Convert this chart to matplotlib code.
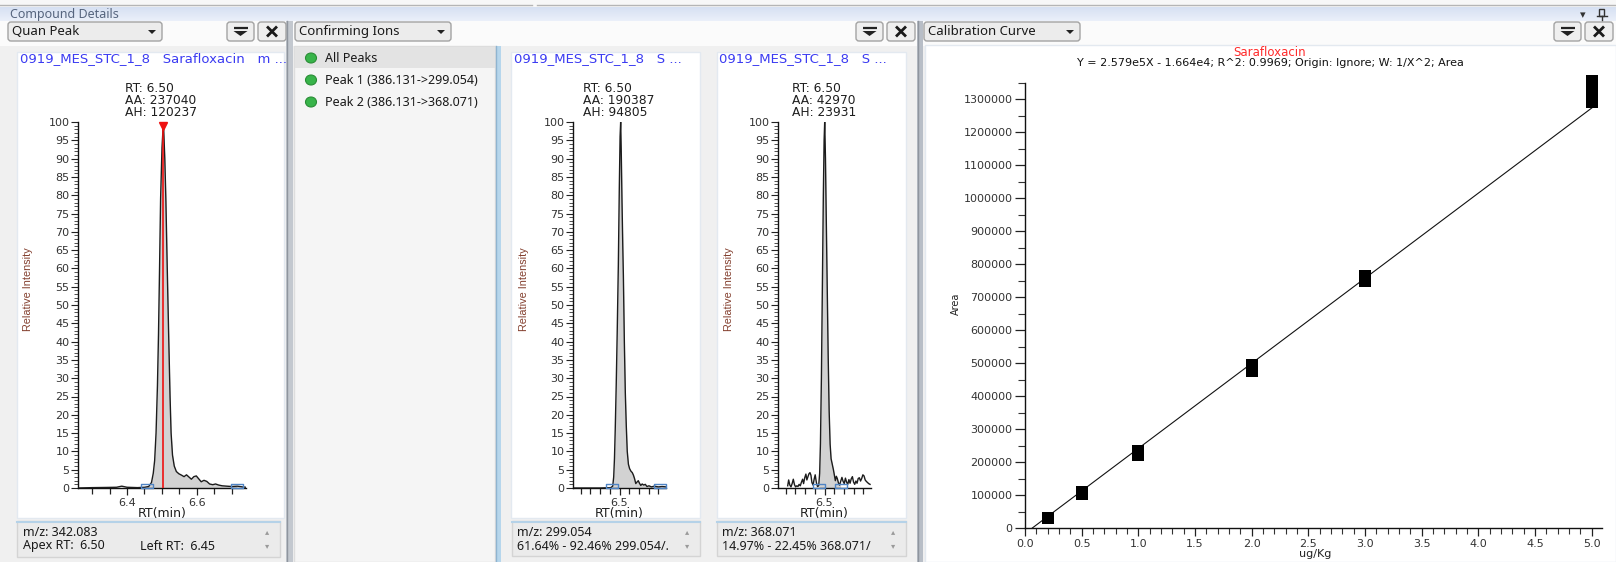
import matplotlib
matplotlib.use("Agg")
import matplotlib.pyplot as plt
import numpy as np
from matplotlib.patches import Rectangle, FancyBboxPatch, Polygon, Ellipse
from matplotlib.path import Path
from matplotlib.ticker import MultipleLocator, FixedLocator, FormatStrFormatter, FuncFormatter

# ---------------- data ----------------
quan_rt = [6.260, 6.300, 6.340, 6.370, 6.385, 6.400, 6.430, 6.450, 6.462, 6.470,
           6.475, 6.479, 6.483, 6.487, 6.490, 6.493, 6.496, 6.500, 6.504, 6.508,
           6.511, 6.515, 6.519, 6.523, 6.526, 6.530, 6.535, 6.541, 6.548, 6.556,
           6.563, 6.570, 6.577, 6.584, 6.591, 6.598, 6.605, 6.612, 6.620, 6.628,
           6.636, 6.645, 6.653, 6.662, 6.672, 6.685, 6.700, 6.715, 6.730, 6.740]
quan_int = [0.0, 0.1, 0.15, 0.2, 0.5, 0.2, 0.1, 0.2, 0.4, 1.5,
            4.0, 7.5, 15, 28, 42, 60, 79, 93, 100, 90,
            79, 60, 42, 25, 15, 9, 6, 4.5, 3.9, 3.5,
            3.1, 3.6, 3.0, 2.4, 3.1, 3.3, 2.5, 1.7, 2.1, 1.8,
            1.1, 0.9, 1.1, 0.8, 0.6, 0.5, 0.4, 0.5, 0.3, 0.2]

ion1_rt = [6.260, 6.400, 6.455, 6.465, 6.470, 6.474, 6.478, 6.483, 6.488, 6.494,
           6.499, 6.503, 6.506, 6.509, 6.513, 6.517, 6.520, 6.525, 6.530, 6.535,
           6.540, 6.546, 6.552, 6.559, 6.566, 6.572, 6.578, 6.584, 6.590, 6.597,
           6.603, 6.610, 6.617, 6.625, 6.633, 6.642, 6.652, 6.665, 6.680, 6.700,
           6.720, 6.740]
ion1_int = [0.0, 0.0, 0.1, 0.5, 3, 8, 16, 28, 42, 61,
            82, 96, 100, 92, 78, 66, 58, 40, 26, 17,
            10, 6.5, 5.3, 4.6, 4.2, 3.5, 2.5, 1.2, 1.6, 2.0,
            1.3, 0.7, 1.1, 0.8, 1.0, 0.4, 0.6, 0.3, 0.5, 0.3,
            0.4, 0.3]

ion2_rt = [6.310, 6.315, 6.321, 6.327, 6.333, 6.339, 6.345, 6.351, 6.357, 6.363,
           6.369, 6.375, 6.381, 6.387, 6.392, 6.398, 6.404, 6.409, 6.414, 6.420,
           6.425, 6.430, 6.435, 6.441, 6.447, 6.452, 6.458, 6.464, 6.470, 6.475,
           6.479, 6.484, 6.489, 6.494, 6.498, 6.501, 6.505, 6.509, 6.514, 6.519,
           6.524, 6.529, 6.534, 6.540, 6.546, 6.551, 6.556, 6.561, 6.566, 6.572,
           6.578, 6.584, 6.590, 6.596, 6.602, 6.608, 6.614, 6.620, 6.626, 6.632,
           6.638, 6.644, 6.650, 6.656, 6.662, 6.668, 6.674, 6.680, 6.686, 6.692,
           6.698, 6.704, 6.710, 6.716, 6.722, 6.728, 6.735]
ion2_int = [0.6, 2.2, 0.8, 0.3, 1.2, 2.4, 0.9, 0.3, 0.6, 0.4,
            1.0, 0.6, 1.6, 2.4, 1.2, 2.8, 3.8, 2.2, 3.0, 3.9,
            4.2, 3.5, 1.5, 0.8, 2.5, 3.6, 1.5, 0.4, 0.6, 4,
            12, 30, 55, 80, 95, 100, 90, 74, 55, 36,
            21, 12, 8, 6.5, 5, 3.5, 2.0, 3.2, 2.6, 1.4,
            0.8, 1.9, 2.9, 1.8, 1.2, 2.7, 1.6, 1.0, 2.3, 1.3,
            2.5, 3.1, 1.6, 1.0, 1.9, 1.3, 2.6, 2.8, 1.9, 2.6,
            3.6, 3.3, 2.2, 1.8, 1.5, 1.2, 1.0]

quan_bounds = [6.456, 6.714]
ion1_bounds = [6.461, 6.709]
ion2_bounds = [6.472, 6.583]
quan_apex = 6.503

peak_info = [["RT: 6.50", "AA: 237040", "AH: 120237"],
             ["RT: 6.50", "AA: 190387", "AH: 94805"],
             ["RT: 6.50", "AA: 42970", "AH: 23931"]]
chart_titles = ["0919_MES_STC_1_8   Sarafloxacin   m ...",
                "0919_MES_STC_1_8   S ...",
                "0919_MES_STC_1_8   S ..."]
status_lines = [["m/z: 342.083", "Apex RT:  6.50"],
                ["m/z: 299.054", "61.64% - 92.46% 299.054/."],
                ["m/z: 368.071", "14.97% - 22.45% 368.071/"]]
ion_list = ["All Peaks", "Peak 1 (386.131->299.054)", "Peak 2 (386.131->368.071)"]

conc_levels = [0.2, 0.5, 1.0, 2.0, 3.0, 5.0]
area_rep_a = [29500, 103000, 221000, 477000, 749000, 1291000]
area_rep_b = [30500, 106000, 227000, 485000, 757000, 1322000]
area_rep_c = [31500, 109000, 233000, 493000, 765000, 1354000]
fit_slope = 2.579e5
fit_intercept = -1.664e4
cal_title = "Sarafloxacin"
cal_equation = "Y = 2.579e5X - 1.664e4; R^2: 0.9969; Origin: Ignore; W: 1/X^2; Area"

# ---------------- figure ----------------
W, H = 1616, 562
plt.rcParams['font.family'] = ['DejaVu Sans']
fig = plt.figure(figsize=(W / 100, H / 100), dpi=100)
fig.patch.set_facecolor('#f0f0f0')

ui = fig.add_axes([0, 0, 1, 1], zorder=0)
ui.set_xlim(0, W)
ui.set_ylim(H, 0)
ui.axis('off')

UIF = ['Noto Sans', 'DejaVu Sans']


def rect(x0, y0, x1, y1, fc, ec='none', lw=1.0, z=1):
    ui.add_patch(Rectangle((x0, y0), x1 - x0, y1 - y0, fc=fc, ec=ec, lw=lw, zorder=z))


def rbox(x0, y0, x1, y1, fc, ec, z=2):
    ui.add_patch(FancyBboxPatch((x0, y0), x1 - x0, y1 - y0,
                                boxstyle='round,pad=0,rounding_size=3',
                                fc=fc, ec=ec, lw=1, zorder=z))


def dropdown(x0, x1, label):
    rbox(x0, 22, x1, 41, '#ececec', '#a3a3a3')
    ui.text(x0 + 4, 31.5, label, fontsize=9.5, family=UIF, va='center', ha='left',
            color='#1a1a1a', zorder=3)
    ax_ = x1 - 10
    ui.add_patch(Polygon([[ax_ - 4, 30], [ax_ + 4, 30], [ax_, 34]], closed=True,
                         fc='#222222', ec='none', zorder=3))


def buttons(x0):
    rbox(x0, 22, x0 + 27, 41, '#efefef', '#a3a3a3')
    cx = x0 + 13.5
    ui.plot([cx - 7, cx + 7], [28, 28], color='#222222', lw=1.6, zorder=3,
            solid_capstyle='butt')
    ui.add_patch(Polygon([[cx - 7, 31], [cx + 7, 31], [cx, 36]], closed=True,
                         fc='#222222', ec='none', zorder=3))
    x1 = x0 + 31
    rbox(x1, 22, x1 + 28, 41, '#efefef', '#a3a3a3')
    cx = x1 + 14
    for sgn in (1, -1):
        ui.plot([cx - 5, cx + 5], [31.5 - 5 * sgn, 31.5 + 5 * sgn], color='#1a1a1a',
                lw=2.0, zorder=3, solid_capstyle='butt')


# top strip and header band
rect(0, 0, W, 7, '#f7f7f7')
ui.plot([0, 532], [4.5, 4.5], color='#b5b5b5', lw=1, zorder=2)
ui.plot([537, W], [4.5, 4.5], color='#b5b5b5', lw=1, zorder=2)
grad = np.linspace(0, 1, 20).reshape(-1, 1)
c_top = np.array([0.84, 0.88, 0.95])
c_bot = np.array([0.92, 0.94, 0.98])
img = c_top[None, None, :] * (1 - grad[:, :, None]) + c_bot[None, None, :] * grad[:, :, None]
ui.imshow(img, extent=[0, W, 21, 7], aspect='auto', zorder=1, interpolation='bilinear')
ui.text(10, 14.5, "Compound Details", fontsize=9, family=UIF, color='#56657e',
        va='center', ha='left', zorder=3)
ui.text(1583, 15, "\u25BE", fontsize=8, color='#333333', va='center', ha='center', zorder=3)
ui.add_patch(Rectangle((1599, 9), 5, 7, fc='none', ec='#333333', lw=1, zorder=3))
ui.plot([1596.5, 1606.5], [16, 16], color='#333333', lw=1, zorder=3)
ui.plot([1601.5, 1601.5], [16, 20], color='#333333', lw=1, zorder=3)

# toolbar row
rect(0, 21, W, 46, '#fbfbfb')

# --- panel 1 ---
dropdown(8, 162, "Quan Peak")
buttons(227)
rect(17, 52, 284, 518, 'white', ec='#e3e9f0')
rect(17, 521, 280, 557, '#ebebeb', ec='#d4d4d4')
ui.plot([17, 280], [521.5, 521.5], color='#b5d2e8', lw=1.5, zorder=2)
rect(286, 21, 293, H, '#c3c8cf')
ui.plot([287, 287], [21, H], color='#8f959e', lw=1, zorder=2)

# --- panel 2 ---
dropdown(295, 451, "Confirming Ions")
buttons(856)
rect(294, 46, 495, H, '#f5f5f5', ec='#dddddd')
rect(295, 47, 495, 68, '#e3e3e3')
for i, lab in enumerate(ion_list):
    yy = 58 + i * 22
    ui.add_patch(Ellipse((311, yy), 11, 10, fc='#38b44a', ec='#2a8d36', lw=0.8, zorder=3))
    ui.text(325, yy, lab, fontsize=9, family=UIF, color='#1a1a1a', va='center',
            ha='left', zorder=3)
rect(496, 46, 501, H, '#b6d6ec')
ui.plot([496, 496], [46, H], color='#8fb4d0', lw=1, zorder=2)
rect(511, 52, 700, 518, 'white', ec='#e3e9f0')
rect(717, 52, 906, 518, 'white', ec='#e3e9f0')
for x0, x1 in [(512, 700), (717, 906)]:
    rect(x0, 521, x1, 556, '#ebebeb', ec='#d4d4d4')
    ui.plot([x0, x1], [521.5, 521.5], color='#b5d2e8', lw=1.5, zorder=2)
rect(917, 21, 923, H, '#b8bec7')
ui.plot([918, 918], [21, H], color='#8f959e', lw=1, zorder=2)

# --- panel 3 ---
dropdown(924, 1080, "Calibration Curve")
buttons(1554)
rect(925, 45, W, H, 'white', ec='#e3e9f0')

# status texts
status_x = [23, 517, 722]
scroll_x = [267, 687, 893]
for k in range(3):
    ui.text(status_x[k], 533, status_lines[k][0], fontsize=9, family=UIF, color='#1a1a1a',
            va='center', ha='left', zorder=3)
    ui.text(status_x[k], 546, status_lines[k][1], fontsize=9, family=UIF, color='#1a1a1a',
            va='center', ha='left', zorder=3)
    ui.text(scroll_x[k], 532, "\u25B4", fontsize=6, color='#9a9a9a', va='center',
            ha='center', zorder=3)
    ui.text(scroll_x[k], 546, "\u25BE", fontsize=6, color='#9a9a9a', va='center',
            ha='center', zorder=3)
ui.text(140, 546, "Left RT:  6.45", fontsize=9, family=UIF, color='#1a1a1a',
        va='center', ha='left', zorder=3)

# ---------------- chromatograms ----------------
chart_px = [(78, 246), (573, 666), (778, 871)]
title_x = [20, 514, 719]
info_x = [125, 583, 792]
ylab_x = [28, 524, 729]
xlabels = [[6.4, 6.6], [6.5], [6.5]]
series = [(quan_rt, quan_int, quan_bounds), (ion1_rt, ion1_int, ion1_bounds),
          (ion2_rt, ion2_int, ion2_bounds)]

bl_marker = Path([(-1, -0.35), (1, -0.35), (1, 0.35), (-1, 0.35), (-1, -0.35)],
                 [Path.MOVETO, Path.LINETO, Path.LINETO, Path.LINETO, Path.CLOSEPOLY])

for k in range(3):
    x0, x1 = chart_px[k]
    ax = fig.add_axes([x0 / W, 1 - 488 / H, (x1 - x0) / W, (488 - 122) / H], zorder=2)
    ax.patch.set_alpha(0)
    ax.set_xlim(6.26, 6.74)
    ax.set_ylim(0, 100)
    for s in ['top', 'right']:
        ax.spines[s].set_visible(False)
    for s in ['left', 'bottom']:
        ax.spines[s].set_linewidth(1.0)
        ax.spines[s].set_color('#111111')
    ax.yaxis.set_major_locator(MultipleLocator(5))
    ax.yaxis.set_minor_locator(MultipleLocator(1))
    ax.yaxis.set_major_formatter(FormatStrFormatter('%d'))
    ax.xaxis.set_major_locator(FixedLocator(xlabels[k]))
    ax.xaxis.set_minor_locator(FixedLocator(list(np.arange(6.30, 6.745, 0.05))))
    ax.xaxis.set_major_formatter(FormatStrFormatter('%.1f'))
    ax.tick_params(axis='y', which='major', length=5, width=0.8, labelsize=8,
                   labelcolor='#333333', pad=1, color='#222222')
    ax.tick_params(axis='y', which='minor', length=3, width=0.6, color='#333333')
    ax.tick_params(axis='x', which='major', length=5, width=0.9, labelsize=8,
                   labelcolor='#333333', pad=2, color='#222222')
    ax.tick_params(axis='x', which='minor', length=4, width=0.9, color='#222222')

    t, I, bnd = series[k]
    t = np.asarray(t)
    I = np.asarray(I)
    m = (t > bnd[0]) & (t < bnd[1])
    tt = np.concatenate([[bnd[0]], t[m], [bnd[1]]])
    ii = np.concatenate([[np.interp(bnd[0], t, I)], I[m], [np.interp(bnd[1], t, I)]])
    ax.fill_between(tt, 0, ii, color='#d2d2d2', lw=0, zorder=1)
    ax.plot(t, I, color='#1c1c1c', lw=1.0, zorder=3)
    ax.plot(bnd, [0.6, 0.6], ls='none', marker=bl_marker, ms=9, mfc='none',
            mec='#4f84c4', mew=1.0, zorder=4, clip_on=False)
    if k == 0:
        ax.plot([quan_apex, quan_apex], [0, 100], color='#ee1111', lw=1.2, zorder=4)
        ax.plot([quan_apex], [99], marker='v', ms=6, color='#ee1111', zorder=5,
                clip_on=False)

    ui.text(title_x[k], 59, chart_titles[k], fontsize=9.5, color='#3b3bf2',
            va='center', ha='left', zorder=3)
    for j, line in enumerate(peak_info[k]):
        ui.text(info_x[k], 89 + 12 * j, line, fontsize=8.8, color='#1e1e1e',
                va='center', ha='left', zorder=3)
    ui.text(ylab_x[k], 289, "Relative Intensity", fontsize=7.8,
            family=['Liberation Sans Narrow', 'Liberation Sans', 'DejaVu Sans'],
            color='#84402f', rotation=90, va='center', ha='center', zorder=3)
    ui.text((x0 + x1) / 2, 513, "RT(min)", fontsize=9, color='#1e1e1e',
            va='center', ha='center', zorder=3)

# ---------------- calibration curve ----------------
cx0, cx1 = 1025, 1602
cy_top, cy_bot = 82.5, 528
cax = fig.add_axes([cx0 / W, 1 - cy_bot / H, (cx1 - cx0) / W, (cy_bot - cy_top) / H], zorder=2)
cax.patch.set_alpha(0)
cax.set_xlim(0, 5.09)
cax.set_ylim(0, 1.35e6)
for s in ['top', 'right']:
    cax.spines[s].set_visible(False)
for s in ['left', 'bottom']:
    cax.spines[s].set_linewidth(1.0)
    cax.spines[s].set_color('#111111')
cax.xaxis.set_major_locator(MultipleLocator(0.5))
cax.xaxis.set_minor_locator(MultipleLocator(0.1))
cax.xaxis.set_major_formatter(FormatStrFormatter('%.1f'))
cax.yaxis.set_major_locator(MultipleLocator(100000))
cax.yaxis.set_minor_locator(MultipleLocator(50000))
cax.yaxis.set_major_formatter(FuncFormatter(lambda v, p: "%d" % round(v)))
cax.tick_params(axis='both', which='major', labelsize=8, labelcolor='#333333',
                color='#222222', width=0.9)
cax.tick_params(axis='y', which='major', length=7, pad=2)
cax.tick_params(axis='y', which='minor', length=5, width=0.8, color='#333333')
cax.tick_params(axis='x', which='major', length=6, pad=2)
cax.tick_params(axis='x', which='minor', length=4, width=0.8, color='#333333')

x_start = -fit_intercept / fit_slope
x_end = conc_levels[-1]
cax.plot([x_start, x_end], [fit_slope * x_start + fit_intercept, fit_slope * x_end + fit_intercept],
         color='#111111', lw=0.8, zorder=2)
for rep in (area_rep_a, area_rep_b, area_rep_c):
    cax.plot(conc_levels, rep, ls='none', marker='s', ms=8.6, mfc='black', mec='black',
             mew=0, zorder=3, clip_on=False)

ui.text(1270, 53, cal_title, fontsize=8.5, color='#ff2b2b', va='center', ha='center', zorder=3)
ui.text(1270, 63.5, cal_equation, fontsize=8, color='#111111', va='center', ha='center', zorder=3)
ui.text(956, 304, "Area", fontsize=7, color='#222222', rotation=90, va='center',
        ha='center', zorder=3)
ui.text(1315, 554, "ug/Kg", fontsize=8, color='#222222', va='center', ha='center', zorder=3)

fig.savefig("out.png", dpi=100, facecolor=fig.get_facecolor())
